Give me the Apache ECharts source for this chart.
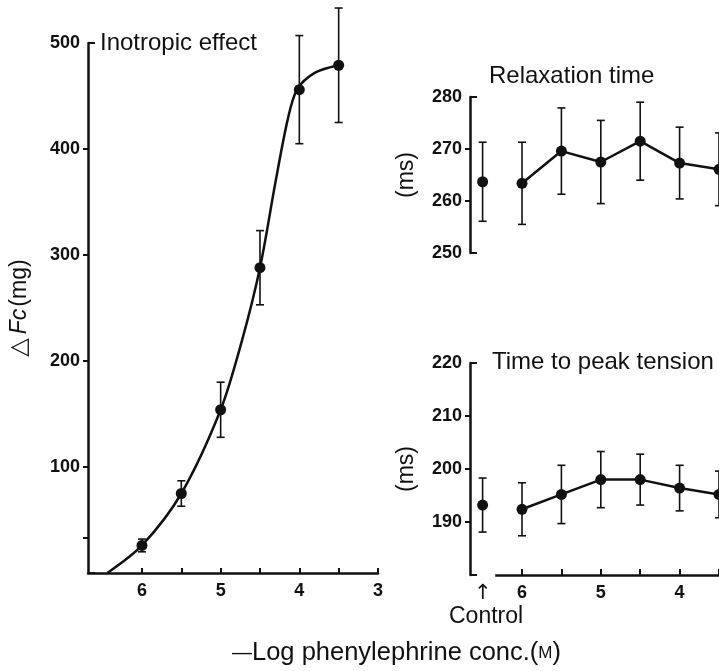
<!DOCTYPE html>
<html>
<head>
<meta charset="utf-8">
<script src="https://cdn.jsdelivr.net/npm/echarts@6/dist/echarts.min.js"></script>
<style>
  html, body { margin: 0; padding: 0; background: #fff; }
  #chart { width: 719px; height: 671px; }
</style>
</head>
<body>
<div id="chart"></div>
<script>
// Inotropic effect (left panel), -log conc vs delta Fc (mg)
const inoX = [6, 5.5, 5, 4.5, 4, 3.5];
const inoY = [26, 75, 154, 288, 456, 479];
const inoErr = [6, 12, 26, 35, 51, 54];
// fitted curve
const curveX = [6.44, 6, 5.5, 5, 4.73, 4.5, 4.3, 4.15, 4.03, 3.8, 3.5];
const curveY = [0, 26, 75, 154, 219, 288, 370, 427, 456, 472, 479];

// Relaxation time (ms)
const concX = [6, 5.5, 5, 4.5, 4, 3.5];
const controlX = 6.5;
const relaxControl = [263.7, 7.6];
const relaxY = [263.4, 269.6, 267.5, 271.5, 267.3, 266.1];
const relaxErr = [7.9, 8.3, 8, 7.5, 6.9, 7];

// Time to peak tension (ms)
const peakControl = [193.2, 5.1];
const peakY = [192.4, 195.2, 198, 198, 196.4, 195.2];
const peakErr = [5, 5.5, 5.3, 4.8, 4.3, 4.4];

// tick labels
const leftXTicks = [6, 5.5, 5, 4.5, 4, 3.5, 3];
const leftXLabels = [6, 5, 4, 3];
const leftYTicks = [33, 100, 200, 300, 400];
const leftYLabels = [100, 200, 300, 400, 500];
const rightXTicks = [6, 5.5, 5, 4.5, 4, 3.5];
const rightXLabels = [6, 5, 4];
const relaxYLabels = [250, 260, 270, 280];
const peakYLabels = [190, 200, 210, 220];

const FONT = '"Liberation Sans", Arial, sans-serif';
const INK = '#111';

const chart = echarts.init(document.getElementById('chart'));

const pairs = (xs, ys) => xs.map((x, i) => [x, ys[i]]);
const triples = (xs, ys, es) => xs.map((x, i) => [x, ys[i], es[i]]);

function errorBars(params, api) {
  const x = api.value(0), m = api.value(1), e = api.value(2);
  const top = api.coord([x, m + e]);
  const bot = api.coord([x, m - e]);
  const cap = 4;
  const style = { stroke: INK, lineWidth: 1.6 };
  return {
    type: 'group',
    children: [
      { type: 'line', shape: { x1: top[0], y1: top[1], x2: bot[0], y2: bot[1] }, style },
      { type: 'line', shape: { x1: top[0] - cap, y1: top[1], x2: top[0] + cap, y2: top[1] }, style },
      { type: 'line', shape: { x1: bot[0] - cap, y1: bot[1], x2: bot[0] + cap, y2: bot[1] }, style },
    ],
  };
}

const axisLine = { show: true, onZero: false, lineStyle: { color: INK, width: 2.5 } };
const tickStyle = { color: INK, width: 2 };
const numLabel = { fontFamily: FONT, fontSize: 18, fontWeight: 'bold', color: INK };
const dot = { symbol: 'circle', symbolSize: 11, itemStyle: { color: INK, opacity: 1 } };

function serifAxis(grid, min, max) {
  return {
    gridIndex: grid, type: 'value', min, max, position: 'left',
    axisLine: { show: false }, axisLabel: { show: false }, splitLine: { show: false },
    axisTick: { show: true, inside: true, length: 7, customValues: [min, max], lineStyle: tickStyle },
  };
}

const titleFont = { fontFamily: FONT, fontSize: 24, fontWeight: 'normal', color: INK };

const option = {
  animation: false,
  backgroundColor: '#fff',
  title: [
    { text: 'Inotropic effect', left: 100, top: 31, padding: 0, textStyle: titleFont },
    { text: 'Relaxation time', left: 489, top: 64, padding: 0, textStyle: titleFont },
    { text: 'Time to peak tension', left: 492, top: 350, padding: 0, textStyle: titleFont },
    { text: '↑', left: 474, top: 583, padding: 0,
      textStyle: { fontFamily: '"DejaVu Sans", sans-serif', fontSize: 21, fontWeight: 'normal', color: INK } },
    { text: 'Control', left: 449, top: 605, padding: 0,
      textStyle: { fontFamily: FONT, fontSize: 23, fontWeight: 'normal', color: INK } },
    { text: '{d|—}{t|Log phenylephrine conc.(}{s|M}{t|)}', left: 232, top: 640, padding: 0,
      textStyle: { fontWeight: 'normal', rich: {
        d: { fontFamily: FONT, fontSize: 20, fontWeight: 'normal', color: INK },
        t: { fontFamily: FONT, fontSize: 25.5, fontWeight: 'normal', color: INK },
        s: { fontFamily: FONT, fontSize: 17, fontWeight: 'normal', color: INK },
      } } },
  ],
  grid: [
    { left: 88, top: 43, width: 290, height: 530 },
    { left: 470, top: 97, width: 249, height: 156 },
    { left: 470, top: 363, width: 249, height: 212 },
  ],
  xAxis: [
    {
      gridIndex: 0, type: 'value', inverse: true, min: 3, max: 6.686,
      axisLine, splitLine: { show: false },
      axisTick: { show: true, inside: true, length: 5, customValues: leftXTicks, lineStyle: tickStyle },
      axisLabel: { ...numLabel, margin: 9, customValues: leftXLabels },
    },
    {
      gridIndex: 1, type: 'value', inverse: true, min: 3.5, max: 6.66, show: false,
    },
    {
      gridIndex: 2, type: 'value', inverse: true, min: 3.5, max: 6.66,
      axisLine: { show: false }, splitLine: { show: false },
      axisTick: { show: true, inside: true, length: 6, customValues: rightXTicks, lineStyle: tickStyle },
      axisLabel: { ...numLabel, margin: 9, customValues: rightXLabels },
    },
  ],
  yAxis: [
    {
      gridIndex: 0, type: 'value', min: 0, max: 500, position: 'left',
      axisLine, splitLine: { show: false },
      axisTick: { show: true, length: 5, customValues: leftYTicks, lineStyle: tickStyle },
      axisLabel: { ...numLabel, margin: 8, customValues: leftYLabels },
      name: '{t|△}{i|Fc}{n|(mg)}', nameLocation: 'middle', nameRotate: 90, nameGap: 56,
      nameTextStyle: { rich: {
        t: { fontFamily: '"DejaVu Sans", sans-serif', fontSize: 24, color: INK },
        i: { fontFamily: FONT, fontSize: 23, fontStyle: 'italic', color: INK, padding: [0, 2, 0, 4] },
        n: { fontFamily: FONT, fontSize: 23, color: INK },
      } },
    },
    {
      gridIndex: 1, type: 'value', min: 250, max: 280, position: 'left',
      axisLine, splitLine: { show: false },
      axisTick: { show: true, length: 5, customValues: [260, 270], lineStyle: tickStyle },
      axisLabel: { ...numLabel, margin: 8, customValues: relaxYLabels },
      name: '(ms)', nameLocation: 'middle', nameRotate: 90, nameGap: 52,
      nameTextStyle: { fontFamily: FONT, fontSize: 23, color: INK },
    },
    {
      gridIndex: 2, type: 'value', min: 180, max: 220, position: 'left',
      axisLine, splitLine: { show: false },
      axisTick: { show: true, length: 5, customValues: [190, 200, 210], lineStyle: tickStyle },
      axisLabel: { ...numLabel, margin: 8, customValues: peakYLabels },
      name: '(ms)', nameLocation: 'middle', nameRotate: 90, nameGap: 52,
      nameTextStyle: { fontFamily: FONT, fontSize: 23, color: INK },
    },
    serifAxis(0, 0, 500),
    serifAxis(1, 250, 280),
    serifAxis(2, 180, 220),
  ],
  series: [
    // left panel
    {
      type: 'line', xAxisIndex: 0, yAxisIndex: 0, data: pairs(curveX, curveY),
      smooth: 0.3, showSymbol: false, symbol: 'none',
      lineStyle: { color: INK, width: 2.5 },
    },
    {
      type: 'custom', xAxisIndex: 0, yAxisIndex: 0, renderItem: errorBars,
      data: triples(inoX, inoY, inoErr), z: 3,
    },
    { type: 'scatter', xAxisIndex: 0, yAxisIndex: 0, data: pairs(inoX, inoY), ...dot, z: 4 },
    // relaxation time
    {
      type: 'custom', xAxisIndex: 1, yAxisIndex: 1, renderItem: errorBars,
      data: [[controlX, relaxControl[0], relaxControl[1]]].concat(triples(concX, relaxY, relaxErr)), z: 3,
    },
    {
      type: 'line', xAxisIndex: 1, yAxisIndex: 1, data: pairs(concX, relaxY), clip: false,
      ...dot, lineStyle: { color: INK, width: 2.5 }, z: 4,
    },
    { type: 'scatter', xAxisIndex: 1, yAxisIndex: 1, data: [[controlX, relaxControl[0]]], ...dot, z: 4 },
    // time to peak tension
    {
      type: 'custom', xAxisIndex: 2, yAxisIndex: 2, renderItem: errorBars,
      data: [[controlX, peakControl[0], peakControl[1]]].concat(triples(concX, peakY, peakErr)), z: 3,
    },
    {
      type: 'line', xAxisIndex: 2, yAxisIndex: 2, data: pairs(concX, peakY), clip: false,
      ...dot, lineStyle: { color: INK, width: 2.5 }, z: 4,
      markLine: {
        silent: true, symbol: ['none', 'none'], label: { show: false },
        lineStyle: { color: INK, width: 2.5, type: 'solid' },
        data: [[{ coord: [6.34, 180] }, { coord: [3.5, 180] }]],
      },
    },
    { type: 'scatter', xAxisIndex: 2, yAxisIndex: 2, data: [[controlX, peakControl[0]]], ...dot, z: 4 },
  ],
};

chart.setOption(option);
window.addEventListener('resize', () => chart.resize());
</script>
</body>
</html>
